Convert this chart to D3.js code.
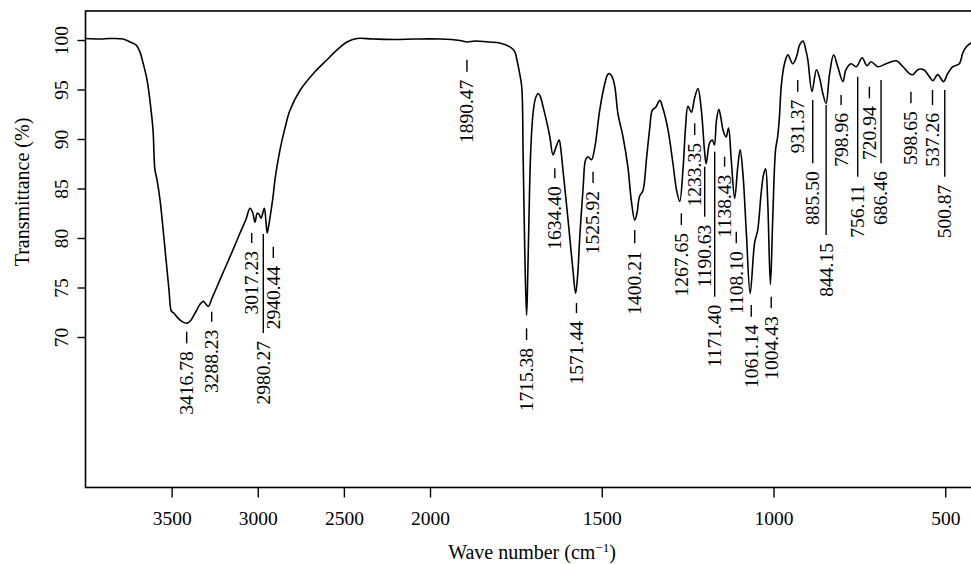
<!DOCTYPE html>
<html>
<head>
<meta charset="utf-8">
<script src="https://cdn.jsdelivr.net/npm/d3@7"></script>
<style>
  html, body { margin: 0; padding: 0; background: #fff; }
  svg { display: block; }
  text { font-family: "Liberation Serif", "Times New Roman", serif; fill: #000; }
</style>
</head>
<body>
<svg id="chart" width="971" height="564"></svg>
<script>
// ---------- data ----------
const wavenumber = [4000,3916,3858,3782,3742,3707,3684,3666,3643,3626,3608,3597,3585,3567,3538,3515,3501,3486,3463,3434,3411,3388,3358,3335,3316,3300,3287,3266,3219,3184,3144,3103,3068,3045,3030,3016,3003,2993,2981,2962,2952,2945,2935,2925,2911,2900,2871,2842,2813,2755,2668,2598,2540,2482,2424,2331,2203,2087,
  1971,1913,1892,1869,1826,1797,1767,1753,1747,1740,1733,1729,1724,1719,1716.5,1712,1707,1700,1693,1685,1679,1671,1660,1651,1642,1634,1624,1619,1613,1598,1584,1576,1570,1564,1554,1547,1540,1530,1520,1506,1491,1483,1477,1470,1462,1453,1438,1424,1414,1404,1397,1390,1380,1370,1360,1353,1343,1331,1322,1307,1293,1282,1273,1263,1256,1249,1239,1230,1220,1210,1201,1196,1186,1178,1172,1166,1159,1153,1147,1138,1131,1123,1113,1104,1097,1089,1079,1068,1055,1046,1036,1029,1023,1017,1009,1002,994,988,983,977,968,958,944,933,924,914,906,900,888,875,866,857,847,837,825,813,798,789,774,759,742,728,716,696,672,643,623,604,594,580,563,546,536,522,505,493,478,459,449,439,425,400];
const transmittance = [100.15,100.1,100.15,100.1,99.8,99.5,98.8,97.7,96.0,93.9,90.9,86.9,85.9,83.8,78.8,74.7,72.6,72.4,71.9,71.5,71.4,71.7,72.6,73.3,73.6,73.3,73.1,73.9,75.8,77.2,78.8,80.5,81.9,83.0,82.6,81.6,82.5,82.4,82.0,83.0,81.6,80.5,81.4,82.5,84.2,85.9,88.9,91.1,92.9,94.9,96.8,98.0,99.0,99.8,100.15,100.1,100.05,100.1,
  100.1,99.95,99.8,99.9,99.8,99.7,99.3,98.8,98.0,96.8,95.3,88.6,78.5,72.2,74.5,81.8,88.6,92.6,94.1,94.6,94.3,93.3,91.7,90.2,88.4,89.1,89.9,88.9,86.9,81.8,76.8,74.4,76.3,80.1,85.2,87.9,88.2,87.9,89.2,92.9,95.6,96.5,96.6,96.3,95.3,92.6,90.2,87.2,83.8,81.8,82.6,84.2,84.8,87.9,91.2,92.9,93.2,93.9,93.1,90.9,87.6,84.8,83.7,87.2,91.2,93.3,92.7,94.1,95.1,92.9,88.9,87.5,89.6,89.9,89.4,91.9,93.0,92.1,90.9,90.2,91.1,87.9,84.0,87.2,88.9,86.5,80.5,74.4,79.5,80.8,84.5,86.4,87.0,83.8,75.3,82.2,88.9,90.2,92.1,95.5,97.6,98.5,97.6,98.3,99.5,99.9,99.0,98.0,94.8,97.0,96.2,94.7,93.6,96.5,98.5,97.3,95.8,97.0,97.6,97.3,98.2,97.4,97.8,97.3,97.6,97.9,97.3,96.6,96.5,97.0,97.0,96.3,95.9,96.5,95.8,96.6,97.3,97.6,98.7,99.3,99.7,99.9];

const peakLabels = ["3416.78","3288.23","3017.23","2980.27","2940.44","1890.47","1715.38","1634.40","1571.44","1525.92","1400.21","1267.65","1233.35","1190.63","1171.40","1138.43","1108.10","1061.14","1004.43","931.37","885.50","844.15","798.96","756.11","720.94","686.46","598.65","537.26","500.87"];
// wavenumber at which each label column stands
const labelColumnWn = [3412.5,3267.3,3035.1,2967.8,2909.7,1892.4,1718.9,1636.6,1573.6,1525.3,1404,1268.3,1229.4,1200.3,1171.2,1142.4,1108.4,1064.8,1006.7,929.4,885.8,846.8,803.2,754.9,720.9,686.9,599.9,537.1,501.4];
// transmittance at the upper and lower end of each label's leader mark
const labelLineTopT = [70.54,72.56,80.51,80.4,79.12,98.0,70.88,87.04,73.43,86.7,80.81,82.49,91.59,87.2,88.72,88.21,80.64,73.23,74.07,95.96,93.94,93.43,94.44,96.29,95.28,95.96,94.78,94.95,94.95];
const labelLineBottomT = [69.36,71.55,79.49,70.4,77.98,96.8,69.7,86.03,72.42,85.56,79.46,81.31,90.4,82.15,74.07,87.2,79.46,72.05,72.9,94.78,87.55,80.3,93.43,86.19,94.11,87.55,93.6,93.43,86.19];

const xTicks = [3500,3000,2500,2000,1500,1000,500];
const yTicks = [70,75,80,85,90,95,100];

// ---------- layout ----------
const svg = d3.select("#chart");
const x = d3.scaleLinear().domain([4000, 2000, 400]).range([85.5, 430, 979.6]);
const y = d3.scaleLinear().domain([70, 100]).range([337, 40]);
const frameTop = y(102.93), frameBottom = y(54.8);
const left = x(4000), right = x(400);

// frame
svg.append("rect")
  .attr("x", left).attr("y", frameTop)
  .attr("width", right - left).attr("height", frameBottom - frameTop)
  .attr("fill", "none").attr("stroke", "#000").attr("stroke-width", 1.6);

// x axis
const xAxis = svg.append("g").attr("transform", `translate(0,${frameBottom})`)
  .call(d3.axisBottom(x).tickValues(xTicks).tickSize(10).tickPadding(14).tickFormat(d3.format("d")));
xAxis.select(".domain").remove();
xAxis.selectAll("line").attr("stroke", "#000").attr("stroke-width", 1.4);
xAxis.selectAll("text").style("font-size", "19.5px").style("font-family", "Liberation Serif");

// y axis
const yAxis = svg.append("g").attr("transform", `translate(${left},0)`)
  .call(d3.axisLeft(y).tickValues(yTicks).tickSize(8).tickFormat(d3.format("d")));
yAxis.select(".domain").remove();
yAxis.selectAll("line").attr("stroke", "#000").attr("stroke-width", 1.4);
yAxis.selectAll("text")
  .attr("x", null).attr("dy", null)
  .attr("text-anchor", "middle")
  .attr("transform", "translate(-18,0) rotate(-90)")
  .style("font-size", "19.5px").style("font-family", "Liberation Serif");

// axis titles
svg.append("text")
  .attr("transform", "translate(29,192) rotate(-90)")
  .attr("text-anchor", "middle")
  .style("font-size", "20px")
  .text("Transmittance (%)");

const xt = svg.append("text")
  .attr("x", 532).attr("y", 559)
  .attr("text-anchor", "middle")
  .style("font-size", "20px");
xt.append("tspan").text("Wave number (cm");
xt.append("tspan").attr("dy", -7).style("font-size", "13px").text("\u22121");
xt.append("tspan").attr("dy", 7).text(")");

// spectrum
const pts = wavenumber.map((w, i) => [w, transmittance[i]]);
const clipId = "plotclip";
svg.append("clipPath").attr("id", clipId).append("rect")
  .attr("x", left).attr("y", frameTop).attr("width", right - left).attr("height", frameBottom - frameTop);
svg.append("path")
  .datum(pts)
  .attr("clip-path", `url(#${clipId})`)
  .attr("fill", "none").attr("stroke", "#000").attr("stroke-width", 1.6)
  .attr("stroke-linejoin", "round")
  .attr("d", d3.line().x(d => x(d[0])).y(d => y(d[1])).curve(d3.curveCatmullRom.alpha(0.5)));

// peak labels
const lab = svg.append("g");
peakLabels.forEach((t, i) => {
  const cx = x(labelColumnWn[i]);
  const y1 = y(labelLineTopT[i]), y2 = y(labelLineBottomT[i]);
  lab.append("line")
    .attr("x1", cx).attr("x2", cx).attr("y1", y1).attr("y2", y2)
    .attr("stroke", "#000").attr("stroke-width", 1.4);
  lab.append("text")
    .attr("transform", `translate(${cx},${y2 + 8}) rotate(-90)`)
    .attr("text-anchor", "end")
    .attr("dy", "0.33em")
    .style("font-size", "19.5px")
    .text(t);
});
</script>
</body>
</html>
